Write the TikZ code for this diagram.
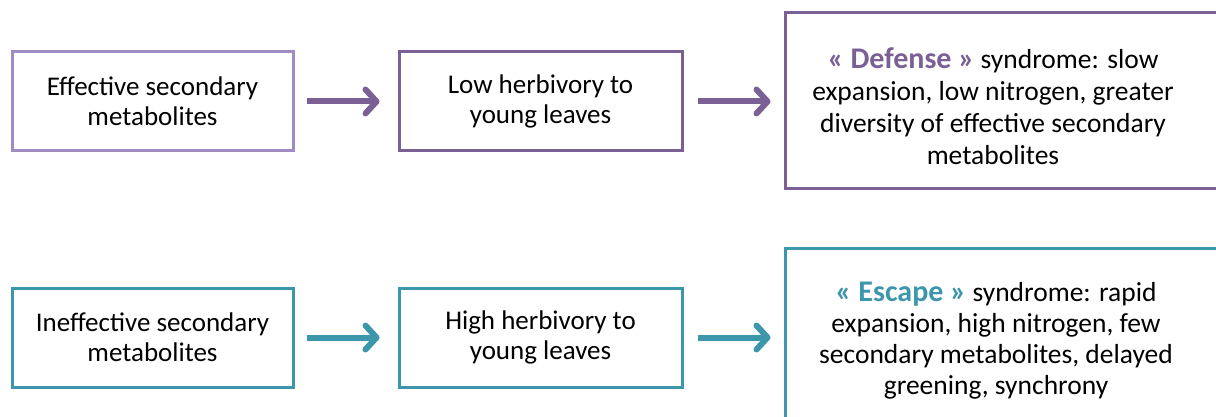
\documentclass[tikz,border=0pt]{standalone}
\usepackage{fontspec}
\setmainfont{Carlito}
\usetikzlibrary{arrows.meta}
\definecolor{lpurp}{HTML}{A08BC3}
\definecolor{dpurp}{HTML}{7B6096}
\definecolor{teal}{HTML}{3C96AC}
\tikzset{
  x=1pt, y=-1pt,
  boxA/.style={draw, line width=3pt, minimum width=281pt, minimum height=99pt, align=center, inner sep=0pt, font=\fontsize{27}{30}\selectfont},
  bigbox/.style={draw, line width=3pt, inner sep=0pt},
  bigtext/.style={align=center, inner sep=0pt, font=\fontsize{27.5}{32}\selectfont},
  flow/.style={line width=6pt, -{Straight Barb[length=11pt, width=24pt, round]}},
}
\begin{document}
\begin{tikzpicture}
\useasboundingbox (0,0) rectangle (1216,417);
% top row
\node[boxA, lpurp] (a1) at (152.5,101.5) {\color{black}Effective secondary\\\color{black}metabolites};
\node[boxA, dpurp, minimum width=283pt] (a2) at (540.5,101.5) {\color{black}Low herbivory to\\\color{black}young leaves};
\node[bigbox, dpurp, minimum width=460pt, minimum height=176pt] (a3) at (1015,101) {};
\node[bigtext] (a3t) at (993,106) {{\color{dpurp}\fontsize{30}{32}\selectfont\bfseries « Defense »} syndrome: slow\\expansion, low nitrogen, greater\\diversity of effective secondary\\metabolites};
\draw[flow, dpurp] ([xshift=12pt]a1.east) -- ([xshift=-18pt]a2.west);
\draw[flow, dpurp] ([xshift=14pt]a2.east) -- ([xshift=-13pt]a2.east -| a3.west);
% bottom row
\node[boxA, teal] (b1) at (152.5,337.5) {\color{black}Ineffective secondary\\\color{black}metabolites};
\node[boxA, teal, minimum width=283pt] (b2) at (540.5,337.5) {\color{black}High herbivory to\\\color{black}young leaves};
\node[bigbox, teal, minimum width=460pt, minimum height=200pt] (b3) at (1015,348) {};
\node[bigtext, font=\fontsize{27.5}{31}\selectfont] (b3t) at (996,341) {{\color{teal}\fontsize{30}{31}\selectfont\bfseries « Escape »} syndrome: rapid\\expansion, high nitrogen, few\\secondary metabolites, delayed\\greening, synchrony};
\draw[flow, teal] ([xshift=12pt]b1.east) -- ([xshift=-18pt]b2.west);
\draw[flow, teal] ([xshift=14pt]b2.east) -- ([xshift=-13pt]b2.east -| b3.west);
\end{tikzpicture}
\end{document}
